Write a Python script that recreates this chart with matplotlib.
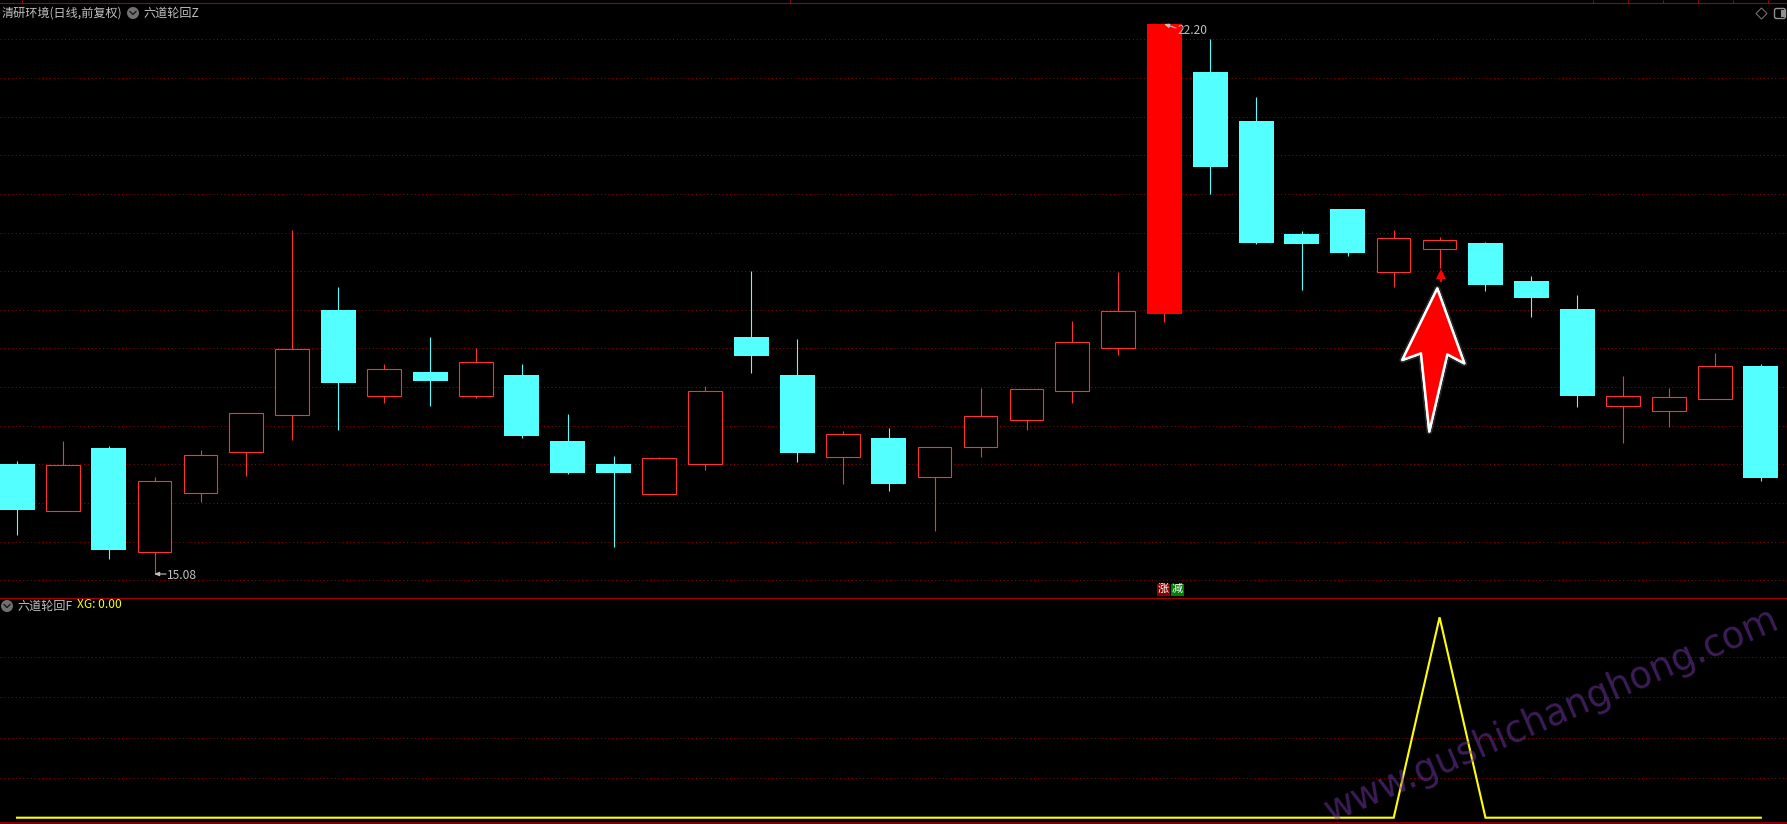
import matplotlib
matplotlib.use("Agg")
import matplotlib.pyplot as plt
from matplotlib.patches import Polygon, Circle, Rectangle, FancyBboxPatch
import matplotlib.patheffects as pe

plt.rcParams['font.family'] = ['Noto Sans CJK SC', 'DejaVu Sans']

# ---- data (prices) ----
opens = [16.50, 15.90, 16.71, 15.36, 16.13, 16.66, 17.14, 18.50, 17.38, 17.70,
         17.39, 17.66, 16.80, 16.50, 16.12, 16.50, 18.15, 17.66, 16.59, 16.84,
         16.33, 16.72, 17.07, 17.45, 18.00, 18.45, 21.58, 20.94, 19.48, 19.80,
         18.99, 19.29, 19.36, 18.87, 18.51, 17.25, 17.19, 17.35, 17.77]
highs = [16.54, 16.80, 16.74, 16.34, 16.69, 17.16, 19.53, 18.80, 17.80, 18.15,
         18.00, 17.80, 17.15, 16.61, 16.60, 17.51, 19.00, 18.12, 16.93, 16.97,
         16.72, 17.49, 17.47, 18.36, 18.99, 22.20, 22.01, 21.26, 19.52, 19.80,
         19.53, 19.44, 19.38, 18.94, 18.69, 17.64, 17.49, 17.94, 17.80]
lows = [15.59, 15.90, 15.27, 15.08, 16.01, 16.35, 16.81, 16.94, 17.29, 17.26,
        17.36, 16.84, 16.38, 15.43, 16.12, 16.43, 17.68, 16.53, 16.25, 16.16,
        15.64, 16.60, 16.95, 17.30, 17.91, 18.34, 20.00, 19.35, 18.76, 19.20,
        18.80, 19.04, 18.74, 18.41, 17.24, 16.78, 16.98, 17.35, 16.28]
closes = [15.91, 16.49, 15.39, 16.28, 16.62, 17.16, 17.99, 17.55, 17.73, 17.58,
          17.82, 16.87, 16.39, 16.39, 16.58, 17.45, 17.90, 16.65, 16.89, 16.25,
          16.72, 17.12, 17.47, 18.09, 18.49, 22.20, 20.35, 19.36, 19.35, 19.24,
          19.43, 19.40, 18.82, 18.65, 17.38, 17.39, 17.37, 17.77, 16.32]
xg = [0.0] * 31 + [1.0] + [0.0] * 7
solid_red = [25]
price_grid = [15.0, 15.5, 16.0, 16.5, 17.0, 17.5, 18.0, 18.5, 19.0, 19.5, 20.0, 20.5, 21.0, 21.5, 22.0]
xg_grid = [0.2, 0.4, 0.6, 0.8]

title_main = "清研环境(日线,前复权)"
name_main = "六道轮回Z"
name_sub = "六道轮回F"
xg_label = "XG: 0.00"
high_label = "22.20"
low_label = "15.08"
watermark = "www.gushichanghong.com"

W, H = 1787, 824
BG = "#000000"
CYAN = "#54FFFF"
RED = "#FF3232"
SOLID = "#FF0000"
LINE = "#A80000"
GRID = "#9A0000"
TXT = "#C0C0C0"
PX = 72 / 100  # one pixel in points

fig = plt.figure(figsize=(W / 100, H / 100), dpi=100, facecolor=BG)


def axes_px(top, bottom):
    return fig.add_axes([0, 1 - bottom / H, 1, (bottom - top) / H], facecolor=BG)


ax = axes_px(3, 597.5)
sub = axes_px(597.5, 822.3)

# pixel <-> data scales
x0_px, dx_px = 17.0, 45.89
xlim = (-x0_px / dx_px, (W - x0_px) / dx_px)
for a in (ax, sub):
    a.set_xlim(*xlim)
    a.set_xticks([])
    a.tick_params(left=False, labelleft=False, bottom=False, labelbottom=False)
    for s in a.spines.values():
        s.set_visible(False)
    a.set_axisbelow(True)
    a.grid(axis='y', color=GRID, lw=1 * PX, linestyle=(0, (1, 2.8)))

ppx = 0.012945
ax.set_ylim(22.511 - 597.5 * ppx, 22.511 - 3 * ppx)
ax.set_yticks(price_grid)
sub.set_ylim((817.7 - 822.3) / 200.4, (817.7 - 597.5) / 200.4)
sub.set_yticks(xg_grid)

# candles
for i, (o, h, l, c) in enumerate(zip(opens, highs, lows, closes)):
    top, bot = max(o, c), min(o, c)
    up = c > o
    col = RED if up else CYAN
    if i in solid_red:
        col = SOLID
    wick = RED if i in solid_red else col
    ax.vlines(i, l, h, color=wick, lw=1.1 * PX, zorder=2)
    if i in solid_red or not up:
        ax.bar(i, top - bot, bottom=bot, width=35 / dx_px, color=col, lw=0, zorder=3)
    else:
        ax.bar(i - 0.2 / dx_px, top - bot, bottom=bot, width=33.7 / dx_px, facecolor=BG,
               edgecolor=RED, lw=1.1 * PX, zorder=3)

# signal marker under candle 31
sig = xg.index(max(xg))
ax.vlines(sig + 0.03, 18.86, 18.96, color=SOLID, lw=2.2 * PX, zorder=4)
ax.plot([sig + 0.03], [18.97], marker='^', ms=7.5, color=SOLID, mew=0, zorder=4)

# indicator line
sub.plot(range(len(xg)), xg, color="#FFFF00", lw=2.1 * PX, zorder=3, solid_joinstyle='miter')

# overlay in pixel coordinates
ov = fig.add_axes([0, 0, 1, 1], facecolor='none')
ov.set_xlim(0, W)
ov.set_ylim(H, 0)
ov.axis('off')

ov.plot([0, W], [3.3, 3.3], color=LINE, lw=1.1 * PX)
ov.plot([0, W], [597.5, 597.5], color=LINE, lw=1.1 * PX)
ov.plot([0, W], [822.5, 822.5], color=LINE, lw=1.5 * PX)
ov.vlines([22, 790] + [1593, 1628, 1663, 1698, 1733, 1768], 0, 3, color=LINE, lw=1 * PX)

FS = 8.7
ov.text(2, 13, title_main, color=TXT, fontsize=FS, va='center', ha='left')
ov.text(143, 13, name_main, color=TXT, fontsize=FS, va='center', ha='left')
ov.text(17, 606, name_sub, color=TXT, fontsize=FS, va='center', ha='left')
ov.text(77, 605, xg_label, color="#FFFF00", fontsize=8.6, va='center', ha='left')


def chevron(cx, cy):
    ov.add_patch(Circle((cx, cy), 6, color="#707070", lw=0))
    ov.plot([cx - 3, cx, cx + 3], [cy - 1.5, cy + 1.5, cy - 1.5], color="#101010", lw=1.2 * PX)


chevron(133, 13)
chevron(7, 606)

# high / low labels
ov.text(1178, 30, high_label, color=TXT, fontsize=8.6, va='center', ha='left')
ov.annotate("", xy=(1164, 24), xytext=(1176, 28),
            arrowprops=dict(arrowstyle='-|>,head_width=0.12,head_length=0.3', color=TXT, lw=0.8, shrinkA=0, shrinkB=0))
ov.text(167, 575.5, low_label, color=TXT, fontsize=8.6, va='center', ha='left')
ov.annotate("", xy=(154, 574), xytext=(166, 574),
            arrowprops=dict(arrowstyle='-|>,head_width=0.12,head_length=0.3', color=TXT, lw=0.8, shrinkA=0, shrinkB=0))

# rise / fall tags
ov.add_patch(Rectangle((1157, 583.5), 12.5, 12, color="#8B0000", lw=0))
ov.add_patch(Rectangle((1171, 583.5), 12.5, 12, color="#008000", lw=0))
ov.text(1163.2, 589.3, "涨", color="white", fontsize=8, va='center', ha='center')
ov.text(1177.2, 589.3, "减", color="white", fontsize=8, va='center', ha='center')

# window icons
ov.add_patch(Polygon([(1761.5, 8), (1767, 13.5), (1761.5, 19), (1756, 13.5)], closed=True,
                     fill=False, ec="#707070", lw=0.8))
ov.add_patch(FancyBboxPatch((1775.5, 9.5), 9, 8, boxstyle="round,pad=1,rounding_size=2",
                            fc=BG, ec="#909090", lw=1))
ov.add_patch(Rectangle((1781, 10), 3.5, 7, color="#909090", lw=0))

# hand-drawn arrow
arrow = Polygon([(1437.3, 288.5), (1464.3, 363.3), (1447.3, 354.3), (1429.3, 431.5),
                 (1421, 353.3), (1402.3, 360)], closed=True, fc=SOLID, ec="white",
                lw=2.4 * PX, joinstyle='round', zorder=6)
arrow.set_path_effects([pe.withStroke(linewidth=6 * PX, foreground="#555555", alpha=0.5),
                        pe.Normal()])
ov.add_patch(arrow)

# watermark
ov.text(1551, 715, watermark, color="#7A3AB0", alpha=0.5, fontsize=26.3, rotation=23.4,
        rotation_mode='anchor', ha='center', va='center', family='DejaVu Sans', zorder=7)

fig.savefig("out.png", dpi=100, facecolor=BG)
